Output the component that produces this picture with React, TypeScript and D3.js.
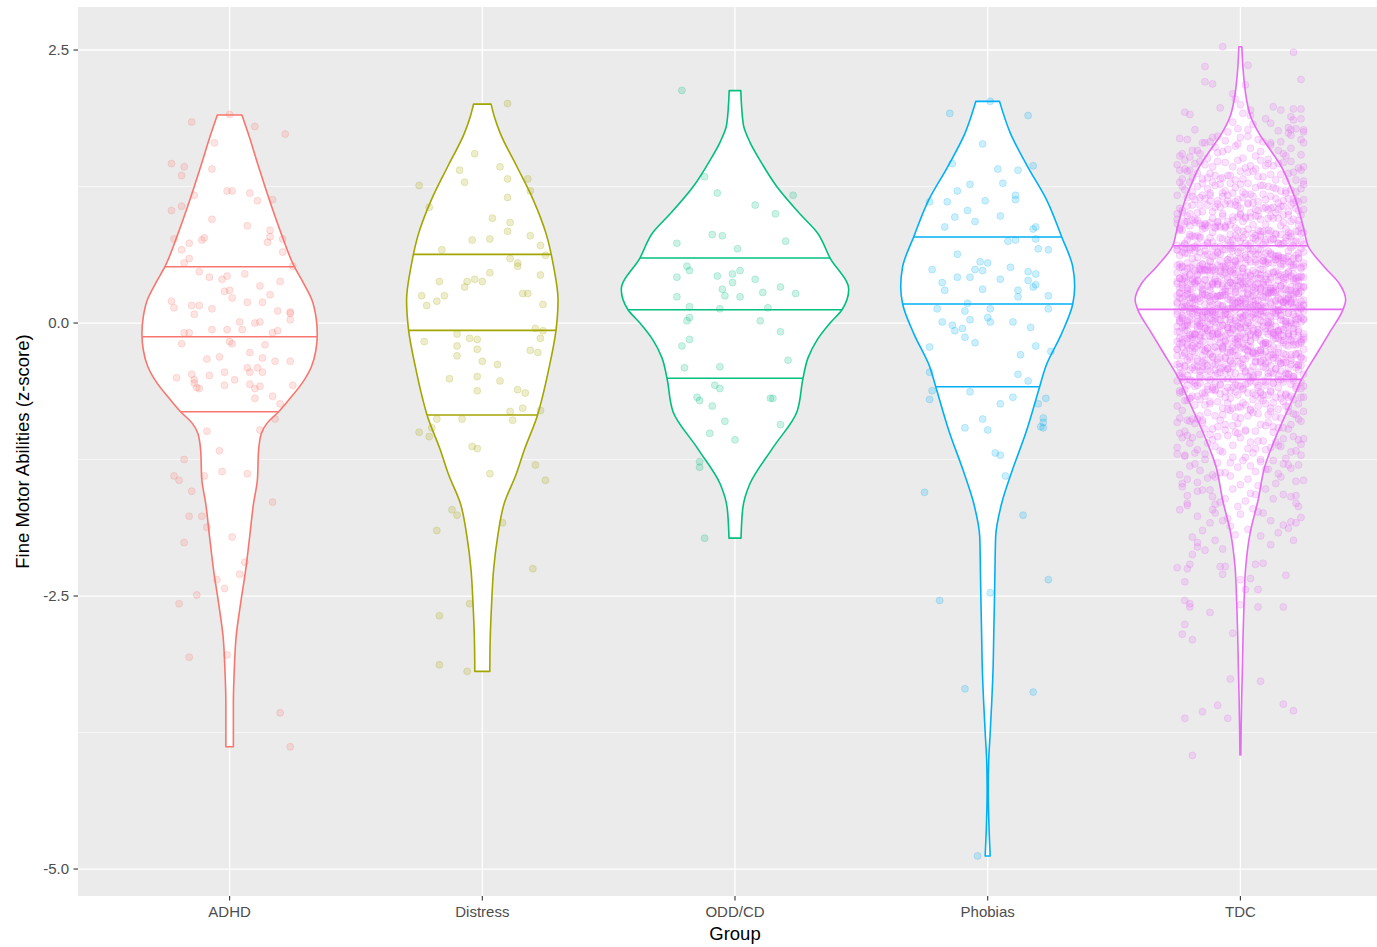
import React from 'react';
import * as d3 from 'd3';

// ---------- data ----------
const GROUPS = ['ADHD', 'Distress', 'ODD/CD', 'Phobias', 'TDC'];
const COLORS = ['#F8766D', '#A3A500', '#00BF7D', '#00B0F6', '#E76BF3'];
const Y_TICKS = [2.5, 0, -2.5, -5];
const Y_MINOR = [3.75, 1.25, -1.25, -3.75];
const Y_LABELS = ['2.5', '0.0', '-2.5', '-5.0'];
const X_TITLE = 'Group';
const Y_TITLE = 'Fine Motor Abilities (z-score)';

// violin outlines: [z-score, relative half width (1 = widest violin)]
const ADHD_VIOLIN = [[1.905,0.108],[1.737,0.163],[1.431,0.255],[1.126,0.35],[0.821,0.453],[0.516,0.569],[0.363,0.651],[0.211,0.724],[0.058,0.759],[-0.095,0.771],[-0.247,0.759],[-0.4,0.719],[-0.553,0.636],[-0.705,0.519],[-0.812,0.431],[-0.919,0.328],[-1.011,0.279],[-1.163,0.255],[-1.438,0.244],[-1.648,0.211],[-1.96,0.176],[-2.262,0.141],[-2.564,0.097],[-2.875,0.057],[-3.178,0.041],[-3.48,0.033],[-3.88,0.033]];
const DISTRESS_VIOLIN = [[2.005,0.077],[1.889,0.106],[1.737,0.158],[1.431,0.305],[1.126,0.449],[0.821,0.56],[0.516,0.627],[0.211,0.666],[-0.067,0.648],[-0.4,0.589],[-0.705,0.522],[-0.842,0.486],[-1.163,0.369],[-1.392,0.295],[-1.651,0.193],[-1.957,0.135],[-2.262,0.099],[-2.567,0.082],[-2.873,0.07],[-3.19,0.066]];
const ODD_VIOLIN = [[2.128,0.051],[1.819,0.073],[1.655,0.132],[1.49,0.22],[1.25,0.367],[0.998,0.572],[0.833,0.719],[0.595,0.836],[0.306,1.0],[0.122,0.941],[0.0,0.836],[-0.156,0.721],[-0.319,0.642],[-0.506,0.598],[-0.812,0.545],[-1.141,0.334],[-1.47,0.132],[-1.7,0.068],[-1.97,0.053]];
const PHOBIAS_VIOLIN = [[2.03,0.104],[1.737,0.2],[1.431,0.352],[1.126,0.519],[0.788,0.651],[0.516,0.748],[0.332,0.765],[0.174,0.748],[-0.095,0.651],[-0.4,0.51],[-0.583,0.457],[-1.01,0.334],[-1.346,0.217],[-1.651,0.123],[-1.957,0.07],[-2.262,0.064],[-2.567,0.059],[-2.873,0.053],[-3.178,0.047],[-3.483,0.035],[-3.788,0.02],[-4.002,0.009],[-4.277,0.005],[-4.597,0.011],[-4.881,0.022]];
const TDC_VIOLIN = [[2.53,0.013],[2.347,0.022],[2.195,0.035],[2.042,0.055],[1.889,0.091],[1.737,0.164],[1.584,0.264],[1.431,0.361],[1.279,0.428],[1.126,0.486],[0.973,0.53],[0.821,0.566],[0.708,0.594],[0.516,0.736],[0.364,0.868],[0.211,0.926],[0.125,0.903],[-0.094,0.78],[-0.247,0.692],[-0.516,0.538],[-0.705,0.457],[-1.01,0.325],[-1.316,0.214],[-1.621,0.156],[-1.926,0.085],[-2.232,0.047],[-2.537,0.033],[-2.842,0.024],[-3.147,0.018],[-3.452,0.011],[-3.757,0.006],[-3.956,0.004]];

// quartiles (25%, 50%, 75%) in z-scores
const ADHD_QUARTILES = [-0.812, -0.125, 0.516];
const DISTRESS_QUARTILES = [-0.842, -0.067, 0.629];
const ODD_QUARTILES = [-0.506, 0.122, 0.595];
const PHOBIAS_QUARTILES = [-0.583, 0.174, 0.788];
const TDC_QUARTILES = [-0.516, 0.125, 0.708];

// jittered observations: [horizontal jitter in hundredths of a category step, z-score in hundredths]
const ADHD_POINTS = [[0,191],[-15,184],[10,180],[22,173],[-6,165],[-23,146],[-18,143],[-19,135],[-7,141],[-1,121],[1,121],[8,119],[11,112],[17,113],[-14,117],[-23,103],[-19,107],[-7,95],[7,89],[16,85],[16,79],[15,74],[-22,77],[-16,73],[-11,76],[-10,78],[-19,67],[-16,59],[-18,55],[21,77],[21,65],[25,52],[-12,47],[-8,42],[-3,40],[-1,43],[6,45],[12,34],[20,38],[-2,29],[0,30],[1,23],[16,26],[7,19],[13,19],[-23,20],[-22,14],[-15,16],[-12,16],[-7,13],[-14,8],[24,10],[24,9],[24,3],[19,11],[4,1],[5,-6],[10,0],[12,1],[-18,-9],[-16,-9],[-7,-6],[-1,-6],[19,-7],[17,-9],[-19,-19],[0,-17],[1,-19],[14,-20],[8,-27],[-4,-31],[-9,-33],[24,-35],[13,-32],[18,-35],[-21,-50],[-15,-47],[-14,-52],[-8,-48],[-2,-45],[2,-52],[7,-41],[8,-45],[11,-41],[13,-45],[-14,-55],[-13,-59],[-12,-60],[-2,-57],[8,-56],[10,-60],[12,-58],[10,-69],[17,-67],[25,-57],[20,-74],[18,-88],[-9,-99],[12,-98],[-4,-117],[-18,-125],[-22,-140],[-20,-144],[-10,-140],[-3,-136],[7,-138],[-15,-154],[17,-164],[-16,-177],[-11,-177],[-9,-187],[-18,-201],[1,-196],[6,-219],[4,-230],[-5,-235],[-2,-243],[-13,-249],[-20,-257],[-16,-306],[-1,-304],[20,-357],[24,-388]];
const DISTRESS_POINTS = [[10,201],[-3,155],[-9,140],[-7,129],[7,143],[10,132],[18,132],[19,121],[-25,126],[10,115],[-21,106],[4,96],[11,92],[10,84],[19,80],[-4,76],[3,77],[23,71],[-16,67],[25,62],[11,59],[14,55],[14,52],[23,44],[3,46],[-17,38],[-6,38],[-3,40],[0,38],[-7,33],[-24,25],[-22,16],[-18,20],[-15,25],[16,27],[18,27],[24,17],[21,-5],[24,-7],[23,-14],[19,-25],[22,-27],[-10,-10],[-5,-14],[-2,-15],[-23,-17],[-10,-21],[-2,-24],[-10,-30],[0,-35],[6,-38],[-13,-51],[-2,-49],[7,-53],[-2,-62],[14,-61],[17,-64],[16,-78],[11,-81],[12,-89],[23,-80],[-18,-88],[-8,-88],[-25,-100],[-21,-104],[-20,-96],[-4,-113],[-2,-115],[21,-130],[3,-138],[25,-144],[-12,-171],[-10,-176],[-18,-190],[8,-183],[20,-225],[-5,-257],[-17,-268],[-17,-313],[-6,-319]];
const ODD_POINTS = [[-21,213],[-12,134],[-7,119],[23,117],[8,108],[16,100],[-9,81],[-5,80],[-23,73],[20,75],[1,68],[-19,52],[-18,48],[-23,42],[-7,43],[-1,45],[2,48],[-1,37],[8,40],[-5,31],[-4,25],[2,24],[11,28],[18,33],[24,27],[-23,24],[-18,15],[-6,13],[13,14],[-18,5],[-19,2],[10,2],[18,-8],[-18,-15],[-21,-21],[-20,-41],[-6,-40],[21,-34],[-8,-57],[-6,-60],[-15,-68],[-14,-71],[-9,-76],[14,-69],[15,-69],[-4,-90],[-10,-101],[0,-107],[18,-93],[-14,-127],[-14,-132],[-12,-197]];
const PHOBIAS_POINTS = [[1,203],[-15,192],[16,190],[-2,164],[-14,146],[18,144],[4,141],[12,140],[-7,127],[6,128],[-12,121],[11,117],[11,113],[-23,111],[-16,111],[-1,112],[-8,103],[-13,97],[-5,93],[5,98],[-17,88],[18,86],[19,88],[8,75],[11,76],[19,77],[20,68],[24,67],[-12,63],[-22,49],[-3,56],[0,55],[-5,49],[-2,48],[-12,42],[-7,42],[5,40],[9,51],[16,47],[19,45],[16,39],[19,35],[18,33],[-18,37],[-17,30],[-2,31],[12,30],[12,24],[24,25],[24,13],[-8,18],[-20,13],[-9,11],[1,13],[0,5],[1,1],[-18,1],[-7,3],[-14,-2],[-13,-7],[-10,-5],[-9,-13],[-5,-18],[10,1],[17,-4],[-23,-22],[19,-21],[25,-26],[13,-29],[-23,-45],[12,-47],[16,-53],[-22,-62],[-23,-70],[-7,-63],[10,-68],[5,-74],[20,-74],[23,-69],[-2,-88],[-9,-96],[0,-98],[22,-87],[22,-91],[21,-95],[22,-96],[3,-119],[5,-121],[7,-140],[-25,-155],[14,-176],[24,-235],[-19,-254],[1,-247],[-9,-335],[18,-338],[-4,-488]];
const TDC_POINTS = [
[-7,253],[21,248],[3,236],[-14,235],[24,223],[-14,221],[-11,219],[2,218],[-3,210],[-8,197],[13,198],[16,195],[21,196],[24,196],[-22,193],[-20,191],[0,200],[4,195],[20,189],[10,187],[12,183],[-18,177],[-1,178],[19,179],[22,178],[25,175],[-24,169],[-21,168],[-9,171],[3,171],[20,172],[24,168],[-15,165],[-12,166],[12,165],[16,166],[-17,158],[-23,155],[-24,153],
[4,190],[21,186],[24,187],[20,177],[25,177],[15,176],[19,174],[-11,170],[3,177],[-14,165],[-19,158],[-16,155],[-10,161],[-7,157],[9,166],[12,163],[15,158],[17,155],[20,160],[24,154],[25,165],[-22,149],[25,143],
[-2,205],[1,192],[-3,184],[5,182],[-5,175],[0,170],[-6,167],[7,168],[-2,162],[4,160],[-9,156],[6,153],[1,151],[-20,152],[-5,159],[8,157],[-13,151],[11,150],[18,153],[-1,164],
[-3,143],[17,147],[-22,141],[8,149],[-14,145],[24,140],[-9,148],[2,142],[-18,146],[13,144],[-25,145],[6,141],[20,148],[-11,143],[-1,149],[15,146],[-20,140],[10,144],[-6,147],[23,142],[-16,148],[4,144],[-24,140],[11,146],
[-8,132],[19,137],[-13,133],[0,139],[22,131],[-4,135],[14,131],[-21,139],[7,134],[-17,137],[25,130],[-10,135],[3,138],[-23,132],[16,136],[-7,133],[12,136],[-19,133],[5,139],[-15,132],[21,138],[-2,131],[9,134],[-12,137],[18,130],[-5,135],[1,132],
[3,128],[-17,125],[22,120],[-8,127],[14,123],[-24,129],[9,126],[-2,124],[18,121],[-13,123],[25,127],[-6,121],[-20,129],[11,125],[1,120],[-15,128],[20,122],[-10,126],[6,124],[-23,125],[16,121],[-4,128],[24,123],[-11,129],[8,126],[-19,120],[13,124],[0,127],[-22,122],
[4,118],[-14,114],[21,110],[-7,116],[17,112],[-25,117],[10,113],[-3,119],[23,111],[-16,115],[7,111],[-12,119],[19,114],[-5,117],[15,110],[-21,115],[2,118],[-9,112],[12,116],[-18,113],[5,116],[-1,113],[18,119],[-12,112],[9,118],[-2,111],[21,114],[-15,117],[5,110],[1,115],[-5,112],
[-19,108],[12,105],[-7,100],[16,107],[-23,103],[3,109],[-10,106],[25,104],[-17,101],[7,103],[-21,107],[14,101],[-4,109],[22,105],[0,100],[-13,108],[19,102],[-8,106],[11,104],[-24,105],[4,101],[-16,108],[23,103],[-6,109],[10,106],[-20,100],[15,104],[-1,107],[-11,102],[20,108],[6,104],[-25,100],[13,106],
[-18,92],[2,97],[-9,93],[24,99],[-14,91],[8,95],[-22,91],[17,99],[-3,94],[-1,97],[5,90],[-18,95],[12,98],[-9,92],[2,96],[-21,93],[15,96],[-5,93],[19,99],[-12,92],[7,98],[-16,91],[23,94],[-3,97],[10,90],[-25,95],[17,92],[-7,98],[21,95],[-14,90],[4,97],[-22,93],[0,99],[13,96],[-19,94],
[8,81],[-11,83],[24,87],[-4,81],[16,89],[-23,85],[6,80],[-10,88],[20,82],[-15,86],[1,84],[11,85],[-20,81],[-6,88],[25,83],[-13,89],[18,86],[-2,80],[9,84],[-24,87],[14,82],[-8,88],[22,84],[-17,80],[3,86],[11,82],[-6,87],[19,83],[-15,89],[2,81],[-24,85],[14,81],[-9,89],[23,84],[-2,87],[-19,80],[7,85],
[-12,78],[25,72],[-5,76],[17,73],[-21,76],[4,73],[-16,79],[9,72],[-1,78],[21,71],[-11,74],[13,77],[-23,70],[0,75],[16,72],[-8,78],[24,75],[-18,70],[6,77],[-13,73],[20,79],[-3,76],[10,74],[-25,71],[15,73],[-7,77],[3,71],[-20,79],[22,75],[-10,70],[5,78],[-17,72],[12,76],[-4,74],[18,75],[-14,71],[1,78],[-22,73],[8,79],
[-3,66],[17,60],[-22,64],[8,67],[-14,62],[24,68],[-9,64],[2,60],[-18,66],[13,62],[-25,67],[6,63],[20,69],[-11,61],[-1,65],[15,61],[-20,69],[10,64],[-6,67],[23,60],[-16,65],[4,68],[-24,62],[11,66],[-8,63],[19,66],[-13,63],[0,69],[22,62],[-4,68],[14,61],[-21,64],[7,67],[-17,60],[25,65],[-10,62],[3,68],[-23,65],[16,60],[-7,67],[12,63],[-19,69],[5,66],
[-15,54],[21,51],[-2,53],[9,57],[-12,51],[18,59],[-5,55],[1,50],[11,58],[-6,52],[19,56],[-15,54],[2,55],[-24,51],[14,58],[-9,53],[23,59],[-2,56],[-19,50],[7,54],[-12,57],[25,52],[-5,58],[17,54],[-21,50],[4,56],[-16,52],[9,57],[-1,53],[21,59],[-11,51],[13,55],[-23,51],[0,59],[16,54],[-8,57],[24,50],[-18,55],[6,58],[-13,52],[20,56],[-3,53],[10,56],[-25,53],[15,59],[-7,52],[3,58],[-20,51],[22,54],
[-10,47],[5,40],[-17,45],[12,42],[-4,48],[18,45],[-14,40],[1,47],[-22,43],[8,49],[3,46],[-17,44],[22,41],[-8,43],[14,47],[-24,41],[9,49],[-2,45],[18,40],[-13,48],[25,42],[-6,46],[-20,44],[11,45],[1,41],[-15,48],[20,43],[-10,49],[6,46],[-23,40],[16,44],[-4,47],[24,42],[-11,48],[8,44],[-19,40],[13,46],[0,42],[-22,47],[4,43],[-14,49],[21,41],[-7,45],[17,41],[-25,46],[10,43],[-3,49],[23,42],[-16,48],[7,41],[-12,44],[19,47],[-5,40],[15,45],
[-21,32],[2,38],[-9,35],[12,30],[-18,37],[5,33],[-1,39],[1,36],[-5,34],[18,31],[-12,33],[9,37],[-2,31],[21,39],[-15,35],[5,30],[-19,38],[12,32],[-7,36],[16,34],[-23,35],[3,31],[-10,38],[25,33],[-17,39],[7,36],[-21,30],[14,34],[-4,37],[22,32],[0,38],[-13,34],[19,30],[-11,36],[-24,32],[4,37],[-16,33],[23,39],[-6,31],[10,35],[-20,31],[15,39],[-1,34],[-11,37],[20,30],[6,35],[-25,38],[13,32],[-18,36],[2,33],[-9,36],[24,33],[-14,39],[8,32],[-22,38],[17,31],[-3,34],[11,37],
[-1,20],[5,25],[-18,22],[12,28],[-9,25],[2,20],[-21,27],[15,23],[-5,29],[19,26],[-12,24],[7,21],[-16,23],[23,27],[-3,21],[10,29],[-25,25],[17,20],[-7,28],[21,22],[-14,26],[4,24],[-22,25],[0,21],[13,28],[-19,23],[8,29],[-11,26],[24,20],[-4,24],[16,27],[-23,22],[6,28],[-10,24],[20,20],[-15,26],[1,22],[11,27],[-20,23],[-6,29],[25,21],[-13,25],[18,21],[-2,29],[9,24],[-24,27],[14,20],[-8,25],[22,28],[-17,22],[3,26],[11,23],[-6,26],[19,23],[-15,29],[2,22],[-24,28],[14,21],[-9,24],[23,27],
[-2,12],[-19,18],[7,15],[-12,10],[25,17],[-5,13],[17,19],[-21,16],[4,14],[-16,11],[9,11],[-1,19],[21,14],[-11,17],[13,10],[-23,15],[0,18],[16,12],[-8,16],[24,13],[-18,13],[6,17],[-13,11],[20,19],[-3,15],[10,10],[-25,18],[15,12],[-7,16],[3,14],[-20,18],[22,14],[-10,10],[5,16],[-17,12],[12,17],[-4,13],[18,19],[-14,11],[1,15],[-22,15],[8,11],[-3,18],[17,13],[-22,19],[8,16],[-14,10],[24,14],[-9,17],[2,12],[-18,16],[13,13],[-25,19],[6,12],[20,18],[-11,11],[-1,14],[15,17],[-20,10],[10,15],
[-6,8],[23,4],[-16,0],[4,6],[-24,2],[11,7],[-8,3],[19,9],[-13,1],[0,5],[22,6],[-4,3],[14,9],[-21,2],[7,8],[-17,1],[25,4],[-10,7],[3,0],[-23,5],[16,3],[-7,7],[12,1],[-19,9],[5,5],[-15,0],[21,8],[-2,2],[9,6],[-12,4],[18,2],[-5,8],[1,5],[3,0],[-17,7],[22,3],[-8,9],[14,6],[-24,4],[9,1],[-2,5],[18,1],[-13,8],[25,3],[-6,9],[-20,6],[11,0],[1,4],[-15,7],[20,2],[-10,1],[6,9],[-23,4],[16,7],[-4,0],[24,5],[-11,8],[8,2],
[-19,-1],[13,-9],[0,-4],[-22,-7],[4,-10],[-14,-5],[21,-8],[-7,-2],[17,-6],[-25,-3],[10,-5],[-3,-1],[23,-8],[-16,-3],[7,-9],[-12,-6],[19,-10],[-5,-4],[15,-7],[-21,-2],[2,-2],[-9,-8],[12,-5],[-18,-10],[5,-7],[-1,-3],[1,-9],[-5,-6],[18,-4],[-12,-1],[9,-3],[-2,-7],[21,-1],[-15,-9],[5,-5],[-19,-10],[12,-8],[-7,-2],[16,-6],[-23,-4],[3,-8],[-10,-4],[25,-10],[-17,-6],[7,-2],[-21,-7],[14,-3],[-4,-9],[22,-1],[0,-5],[-13,-6],[19,-3],[-8,-9],[11,-2],[-24,-8],
[4,-16],[-16,-13],[23,-19],[-6,-12],[10,-18],[-20,-11],[15,-14],[-1,-17],[-11,-10],[20,-15],[6,-13],[-25,-17],[13,-11],[-18,-19],[2,-15],[-9,-10],[24,-18],[-14,-12],[8,-16],[-22,-14],[17,-18],[-3,-14],[11,-10],[-6,-16],[19,-12],[-15,-17],[2,-13],[-24,-19],[14,-11],[-9,-15],[23,-12],[-2,-18],[-19,-15],[7,-10],[-12,-17],[25,-13],[-5,-19],[17,-16],[-21,-14],[4,-11],[-16,-11],[9,-19],[-1,-14],[21,-17],[-11,-10],[13,-15],[-23,-18],[0,-12],[16,-16],[-8,-13],[24,-15],[-18,-11],
[6,-28],[-13,-23],[20,-29],[-3,-26],[10,-20],[-25,-24],[15,-27],[-7,-22],[3,-26],[-20,-23],[22,-29],[-10,-22],[5,-28],[-17,-21],[12,-24],[-4,-27],[18,-20],[-14,-25],[1,-22],[-22,-28],[8,-25],[-1,-20],[5,-27],[-18,-23],[12,-29],[-9,-26],[2,-24],[-21,-21],[15,-23],[-5,-27],[19,-21],[-12,-29],[7,-25],[-16,-20],[23,-28],[-3,-22],[10,-26],[-25,-24],[17,-28],[-7,-24],[21,-20],[-14,-26],[4,-22],[-22,-27],[0,-23],[13,-29],[-19,-21],[8,-25],
[-11,-31],[24,-39],[-4,-34],[16,-37],[-23,-30],[6,-35],[-10,-38],[20,-32],[-15,-36],[1,-33],[11,-35],[-20,-31],[-6,-38],[25,-33],[-13,-39],[18,-36],[-2,-30],[9,-34],[-24,-37],[14,-32],[-8,-32],[22,-38],[-17,-35],[3,-30],[-3,-37],[17,-33],[-22,-39],[8,-36],[-14,-34],[24,-31],[-9,-36],[2,-33],[-18,-39],[13,-32],[-25,-38],[6,-31],[20,-34],[-11,-37],[-1,-30],[15,-35],[-20,-33],[10,-37],[-6,-31],[23,-39],
[-16,-48],[4,-44],[-24,-40],[11,-46],[-8,-42],[19,-47],[-13,-43],[0,-49],[22,-41],[-4,-45],[14,-42],[-21,-48],[7,-45],[-17,-40],[25,-47],[-10,-43],[3,-49],[-23,-46],[16,-44],[-7,-41],[12,-45],[-19,-41],[5,-48],[-15,-43],[21,-49],[-2,-46],[9,-40],[-12,-44],[18,-47],[-5,-42],[1,-41],[11,-49],[-6,-44],[19,-47],[-15,-40],[2,-45],[-24,-48],[14,-42],[-9,-46],[23,-43],
[-2,-56],[-19,-53],[7,-59],[-12,-52],[25,-58],[-5,-51],[17,-54],[-21,-57],[4,-50],[-16,-55],[9,-53],[-1,-57],[21,-51],[-11,-59],[13,-55],[-23,-50],[0,-58],[16,-52],[-8,-56],[24,-54],[-18,-58],[6,-54],[-13,-50],[20,-56],[-3,-52],[10,-57],[-25,-53],[15,-59],[-7,-51],[3,-55],[-20,-52],[22,-58],[-10,-55],[5,-50],[-17,-57],
[12,-63],[-4,-69],[18,-66],[-14,-64],[1,-61],[-22,-61],[8,-69],[3,-64],[-17,-67],[22,-60],[-8,-65],[14,-68],[-24,-62],[9,-66],[-2,-63],[18,-65],[-13,-61],[25,-68],[-6,-63],[-20,-69],[11,-66],[1,-60],[-15,-64],[20,-67],[-10,-62],[6,-66],[-23,-63],[16,-69],[-4,-62],[24,-68],[-11,-61],[8,-64],[-19,-67],
[13,-73],[0,-77],[-22,-71],[4,-79],[-14,-75],[21,-70],[-7,-78],[17,-72],[-25,-76],[10,-74],[-3,-78],[23,-74],[-16,-70],[7,-76],[-12,-72],[19,-77],[-5,-73],[15,-79],[-21,-71],[2,-75],[-9,-72],[12,-78],[-18,-75],[5,-70],[-1,-77],[1,-73],[-5,-79],[18,-76],[-12,-74],[9,-71],
[-2,-86],[21,-83],[-15,-89],[5,-82],[-19,-88],[12,-81],[-7,-84],[16,-87],[-23,-80],[3,-85],[-10,-85],[25,-81],[-17,-88],[7,-83],[-21,-89],[14,-86],[-4,-80],[22,-84],[0,-87],[-13,-82],[19,-81],[-8,-89],[11,-84],[-24,-87],[4,-80],[-16,-85],[23,-88],
[-6,-98],[10,-94],[-20,-90],[15,-96],[-1,-92],[-11,-97],[20,-93],[6,-99],[-25,-91],[13,-95],[-18,-92],[2,-98],[-9,-95],[24,-90],[-14,-97],[8,-93],[-22,-99],[17,-96],[-3,-94],[11,-91],[-6,-93],[19,-97],[-15,-91],[2,-99],
[-24,-101],[14,-109],[-9,-104],[23,-107],[-2,-100],[-19,-105],[7,-108],[-12,-102],[25,-106],[-5,-103],[17,-106],[-21,-103],[4,-109],[-16,-102],[9,-108],[-1,-101],[21,-104],[-11,-107],[13,-100],[-23,-105],[0,-105],
[16,-113],[-8,-117],[24,-111],[-18,-119],[6,-115],[-13,-110],[20,-118],[-3,-112],[10,-116],[-25,-114],[15,-112],[-7,-118],[3,-115],[-20,-110],[22,-117],[-10,-113],[5,-119],[-17,-116],[12,-114],
[-4,-128],[18,-124],[-14,-120],[1,-126],[-22,-122],[8,-127],[-3,-123],[17,-129],[-22,-121],[8,-125],[-14,-125],[24,-121],[-9,-128],[2,-123],[-18,-129],[13,-126],[-25,-120],
[6,-136],[20,-133],[-11,-139],[-1,-132],[15,-138],[-20,-131],[10,-134],[-6,-137],[23,-130],[-16,-135],[4,-131],[-24,-139],[11,-134],[-8,-137],[19,-130],
[-13,-142],[0,-148],[22,-145],[-4,-140],[14,-147],[-21,-143],[7,-149],[-17,-146],[25,-144],[-10,-141],[3,-143],[-23,-147],[16,-141],
[-17,-177],[-10,-174],[-12,-183],[-7,-181],[-5,-179],[-11,-171],[-10,-166],[7,-173],[9,-174],[12,-181],[17,-185],[20,-182],[24,-178],[22,-183],[-21,-165],[-21,-167],[-23,-150],[-21,-158],[-17,-154],[-15,-153],[-12,-153],[-11,-159],[13,-161],[17,-157],[20,-159],[22,-158],[22,-165],[23,-168],
[-3,-152],[4,-156],[-6,-161],[2,-163],[-1,-168],[5,-170],[0,-175],[-4,-186],[3,-189],[-2,-194],[6,-157],[-8,-164],[10,-152],[-15,-190],[15,-192],[-19,-196],[19,-188],[-24,-171],[8,-195],
[-17,-201],[-17,-205],[-14,-208],[-19,-212],[-10,-199],[-7,-207],[12,-203],[21,-199],[-25,-224],[-21,-225],[-20,-221],[-22,-237],[-8,-223],[-6,-223],[-7,-230],[6,-221],[9,-220],[18,-231],[0,-235],[4,-234],[2,-244],[7,-244],[-22,-254],[-20,-257],[-20,-260],[-12,-265],[-22,-276],[-23,-285],[-19,-290],[-3,-284],[0,-258],[7,-260],[17,-260],[-4,-326],[8,-328],[-9,-350],[-15,-356],[-22,-362],[-5,-362],[17,-349],[21,-355],[-19,-396],
[14,114],[-7,119],[22,112],[-19,116],[3,110],[-12,117],[25,113],
[-2,108],[9,105],[-23,101],[17,107],[-15,102],[0,105],[-9,109],
[20,93],[-4,90],[11,96],[-25,91],[6,98],[-17,94],[23,90],[-11,96],[1,93],[-21,98],
[16,81],[-6,89],[8,84],[-14,87],[24,82],[-1,85],[12,84],[-20,89],[5,82],[-24,86],[19,80],[-10,87],
[2,73],[-16,78],[21,75],[-5,71],[13,77],[-22,72],[7,75],[-18,79],[15,73],[-8,70],[10,76],[-3,71],[18,78],[-13,74],
[-4,60],[-14,66],[7,63],[-22,68],[19,61],[-3,69],[12,64],[-25,67],[2,62],[-9,65],[23,64],[-17,69],[15,62],[0,66],[9,60],[-20,67],[4,63],[-11,68],
[25,55],[-6,51],[17,57],[-23,52],[11,55],[-1,59],[21,53],[-16,50],[6,56],[-8,51],[14,58],[-24,54],[1,50],[-12,56],[20,53],[-5,58],[24,51],[-19,59],[10,54],[-2,57],[16,52],[-21,55],
[4,44],[-13,49],[18,42],[-3,46],[10,40],[-8,47],[15,43],[-18,48],[7,45],[-22,41],[13,47],[-5,42],[21,45],[-16,49],[2,43],[-10,40],[19,46],[-24,41],[5,48],[-20,44],[12,40],[-1,46],[24,43],[-14,48],[8,41],[-6,49],
[16,34],[-21,37],[1,32],[-11,35],[23,34],[-17,39],[6,32],[-25,36],[11,30],[-4,37],[20,33],[-9,38],[0,35],[-15,31],[17,37],[-23,32],[9,35],[-2,39],[25,33],[-12,30],[3,36],[-19,31],[22,38],[-7,34],[14,30],[-3,36],[8,31],[-18,38],
[-4,21],[13,29],[-18,24],[3,27],[-10,22],[8,25],[-15,27],[18,22],[-7,25],[22,29],[-13,23],[5,20],[-21,26],[16,21],[-2,28],[10,24],[-19,24],[24,29],[-5,22],[20,26],[-12,20],[1,27],[-24,23],[14,28],[-8,25],[6,21],[-16,20],[21,26],[-1,23],[11,28],
[-23,14],[17,19],[-6,12],[25,16],[-11,10],[4,17],[-20,13],[9,18],[0,15],[15,11],[-17,10],[23,16],[-9,13],[2,18],[-25,11],[12,19],[-3,14],[19,17],[-22,12],[7,15],[-14,17],[14,12],[-7,15],[22,19],[-19,13],[3,10],[-12,16],[25,11],[-2,18],[9,14],
[-23,7],[17,2],[-15,5],[0,9],[-9,3],[20,0],[-4,6],[11,1],[-25,8],[6,4],[-17,4],[23,9],[-11,2],[1,6],[-21,0],[16,7],[-6,3],[8,8],[-14,5],[24,1],[-1,0],[12,6],[-20,3],[5,8],[-24,1],[19,9],[-10,4],[2,7],
[-16,-2],[21,-5],[-5,-4],[13,-9],[-22,-2],[7,-6],[-18,-10],[15,-7],[-8,-3],[10,-8],[-3,-5],[18,-1],[-13,-7],[4,-2],[-14,-5],[7,-9],[-22,-3],[19,-10],[-3,-6],[12,-1],[-25,-8],[2,-4],[-9,-10],[23,-6],[-17,-3],[15,-8],[0,-1],
[9,-19],[-20,-14],[4,-17],[-11,-12],[25,-15],[-6,-17],[17,-12],[-23,-15],[11,-19],[-1,-13],[21,-10],[-16,-16],[6,-11],[-8,-18],[14,-14],[-24,-14],[1,-19],[-12,-12],[20,-16],[-5,-10],[24,-17],[-19,-13],[10,-18],[-2,-15],[16,-11],
[-21,-20],[5,-26],[-13,-23],[22,-28],[-7,-21],[18,-29],[-15,-24],[8,-27],[-10,-22],[3,-25],[-18,-27],[13,-22],[-4,-25],[14,-29],[-7,-23],[22,-20],[-19,-26],[3,-21],[-12,-28],[25,-24],[-2,-24],[9,-29],[-23,-22],
[17,-36],[-15,-30],[0,-37],[-9,-33],[20,-38],[-4,-35],[11,-31],[-25,-30],[6,-36],[-17,-33],[23,-38],[-11,-31],[1,-39],[-21,-34],[16,-37],[-6,-32],[8,-35],[-14,-37],[24,-32],[-1,-35],[12,-39],
[-20,-43],[5,-40],[-24,-46],[19,-41],[-10,-48],[2,-44],[-16,-44],[21,-49],[-5,-42],[13,-46],[-22,-40],[7,-47],[-18,-43],[15,-48],[-8,-45],[10,-41],[-3,-40],[18,-46],
[4,-53],[-13,-58],[18,-51],[-3,-59],[10,-54],[-8,-57],[15,-52],[-18,-55],[7,-57],[-22,-52],[13,-55],[-5,-59],[21,-53],[-16,-50],[2,-56],
[-10,-61],[19,-68],[-24,-64],[5,-64],[-20,-69],[12,-62],[-1,-66],[24,-60],[-14,-67],[8,-63],[-6,-68],[16,-65]
];

// ---------- layout ----------
const W = 1377;
const H = 947;
const PANEL = { left: 78, top: 7, right: 1392, bottom: 896 };
const FONT = '"Liberation Sans", Arial, Helvetica, sans-serif';

function halfAt(profile: number[][], v: number): number {
  for (let i = 0; i < profile.length - 1; i++) {
    const a = profile[i], b = profile[i + 1];
    if (v <= a[0] && v >= b[0]) {
      const t = (a[0] - v) / (a[0] - b[0]);
      return a[1] + t * (b[1] - a[1]);
    }
  }
  return 0;
}

export default function App() {
  const x = d3.scalePoint<string>().domain(GROUPS).range([PANEL.left, PANEL.right]).padding(0.6);
  const step = x.step();
  const y = d3.scaleLinear().domain([-5.247, 2.894]).range([PANEL.bottom, PANEL.top]);
  const w = d3.scaleLinear().domain([0, 1]).range([0, 0.45 * step]);
  const jit = d3.scaleLinear().domain([-100, 100]).range([-step, step]);

  const table = [
    { g: GROUPS[0], violin: ADHD_VIOLIN, q: ADHD_QUARTILES, pts: ADHD_POINTS },
    { g: GROUPS[1], violin: DISTRESS_VIOLIN, q: DISTRESS_QUARTILES, pts: DISTRESS_POINTS },
    { g: GROUPS[2], violin: ODD_VIOLIN, q: ODD_QUARTILES, pts: ODD_POINTS },
    { g: GROUPS[3], violin: PHOBIAS_VIOLIN, q: PHOBIAS_QUARTILES, pts: PHOBIAS_POINTS },
    { g: GROUPS[4], violin: TDC_VIOLIN, q: TDC_QUARTILES, pts: TDC_POINTS },
  ];

  return (
    <svg width={W} height={H} style={{ position: 'absolute', left: 0, top: 0, display: 'block', background: '#fff' }}>
      <rect x={PANEL.left} y={PANEL.top} width={PANEL.right - PANEL.left} height={PANEL.bottom - PANEL.top} fill="#EBEBEB" />
      {Y_MINOR.filter(t => y(t) > PANEL.top && y(t) < PANEL.bottom).map(t => (
        <line key={'mn' + t} x1={PANEL.left} x2={PANEL.right} y1={y(t)} y2={y(t)} stroke="#fff" strokeWidth={0.6} />
      ))}
      {Y_TICKS.map(t => (
        <line key={'mj' + t} x1={PANEL.left} x2={PANEL.right} y1={y(t)} y2={y(t)} stroke="#fff" strokeWidth={1.3} />
      ))}
      {GROUPS.map(g => (
        <line key={'vg' + g} x1={x(g)} x2={x(g)} y1={PANEL.top} y2={PANEL.bottom} stroke="#fff" strokeWidth={1.3} />
      ))}
      {table.map((d, i) => {
        const cx = x(d.g) as number;
        const area = d3.area<number[]>()
          .curve(d3.curveMonotoneY)
          .y(p => y(p[0]))
          .x0(p => cx - w(p[1]))
          .x1(p => cx + w(p[1]));
        return (
          <g key={'v' + d.g}>
            <path d={area(d.violin) || ''} fill="#fff" stroke={COLORS[i]} strokeWidth={1.6} strokeLinejoin="round" />
            {d.q.map(qv => {
              const hw = w(halfAt(d.violin, qv));
              return <line key={'q' + qv} x1={cx - hw} x2={cx + hw} y1={y(qv)} y2={y(qv)} stroke={COLORS[i]} strokeWidth={1.6} />;
            })}
          </g>
        );
      })}
      {table.map((d, i) => {
        const cx = x(d.g) as number;
        return (
          <g key={'p' + d.g} fill={COLORS[i]} stroke={COLORS[i]} fillOpacity={0.2} strokeOpacity={0.2} strokeWidth={1}>
            {d.pts.map((p, k) => (
              <circle key={k} cx={cx + jit(p[0])} cy={y(p[1] / 100)} r={3.5} />
            ))}
          </g>
        );
      })}
      {Y_TICKS.map((t, i) => (
        <g key={'yt' + t}>
          <line x1={PANEL.left - 4.5} x2={PANEL.left} y1={y(t)} y2={y(t)} stroke="#333" strokeWidth={1.1} />
          <text x={PANEL.left - 9} y={y(t)} dy="0.35em" textAnchor="end" fontFamily={FONT} fontSize={15} fill="#4D4D4D">{Y_LABELS[i]}</text>
        </g>
      ))}
      {GROUPS.map(g => (
        <g key={'xt' + g}>
          <line x1={x(g)} x2={x(g)} y1={PANEL.bottom} y2={PANEL.bottom + 4.5} stroke="#333" strokeWidth={1.1} />
          <text x={x(g)} y={917} textAnchor="middle" fontFamily={FONT} fontSize={15} fill="#4D4D4D">{g}</text>
        </g>
      ))}
      <text x={(PANEL.left + PANEL.right) / 2} y={940} textAnchor="middle" fontFamily={FONT} fontSize={18.5} fill="#000">{X_TITLE}</text>
      <text transform={`translate(29,${(PANEL.top + PANEL.bottom) / 2}) rotate(-90)`} textAnchor="middle" fontFamily={FONT} fontSize={18.5} fill="#000">{Y_TITLE}</text>
    </svg>
  );
}
